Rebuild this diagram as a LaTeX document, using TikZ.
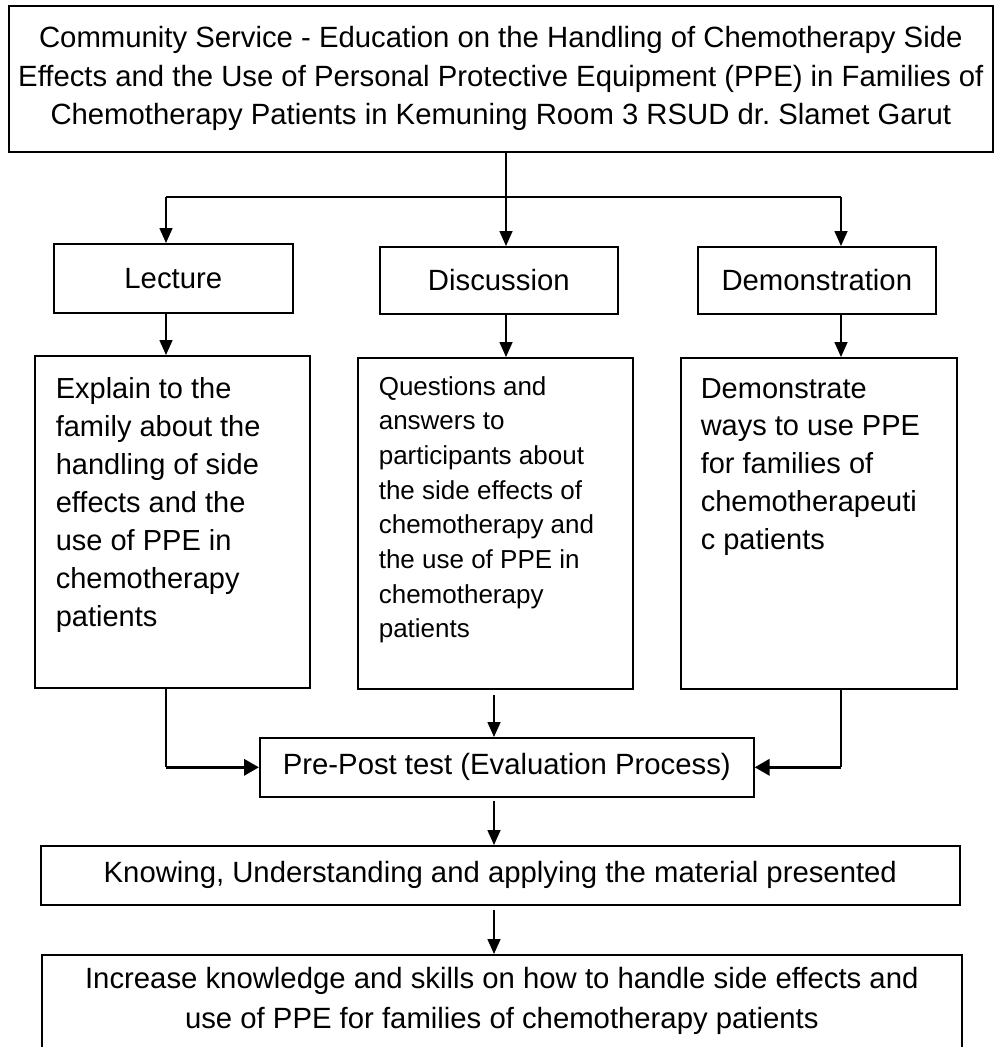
\documentclass[tikz,border=0pt]{standalone}
\usepackage{fontspec}
\setmainfont{Liberation Sans}
\frenchspacing
\usetikzlibrary{arrows.meta}

\newcommand{\toptext}[3]{\parbox[t][#1][t]{#2}{\raggedright\strut #3}}

\begin{document}
\begin{tikzpicture}[x=1pt, y=-1pt,
  box/.style={draw, line width=1.6pt, anchor=north west, align=center,
    font=\fontsize{29.3}{38.5}\selectfont},
  bigbox/.style={draw, line width=1.6pt, anchor=north west, inner xsep=21pt},
  arr/.style={line width=1.6pt, -{Triangle[length=15pt,width=13pt]}},
  thickarr/.style={line width=3.5pt, -{Triangle[length=15pt,width=16pt]}}]
  \clip (0,0) rectangle (994,1047);

  \node[box, minimum width=984pt, minimum height=146pt] (top) at (8,5)
    {Community Service - Education on the Handling of Chemotherapy Side\\
     Effects and the Use of Personal Protective Equipment (PPE) in Families of\\
     Chemotherapy Patients in Kemuning Room 3 RSUD dr. Slamet Garut};

  \node[box, minimum width=239pt, minimum height=69pt] (lecture) at (53,243) {Lecture};
  \node[box, minimum width=238pt, minimum height=67pt] (discussion) at (379,246) {Discussion};
  \node[box, minimum width=238pt, minimum height=67pt] (demo) at (697,246) {Demonstration};

  \node[bigbox, inner ysep=15.8pt, font=\fontsize{29}{38}\selectfont] (lecturebig) at (34,355)
    {\toptext{300.4pt}{233pt}{Explain to the\\ family about the\\ handling of side\\
      effects and the\\ use of PPE in\\ chemotherapy\\ patients}};
  \node[bigbox, inner ysep=13pt, font=\fontsize{26}{34.7}\selectfont] (discussionbig) at (357,357)
    {\toptext{305pt}{233pt}{Questions and\\ answers to\\ participants about\\
      the side effects of\\ chemotherapy and\\ the use of PPE in\\ chemotherapy\\ patients}};
  \node[bigbox, inner xsep=20pt, inner ysep=13.8pt, font=\fontsize{29}{37.8}\selectfont] (demobig) at (680,357)
    {\toptext{303.4pt}{236pt}{Demonstrate\\ ways to use PPE\\ for families of\\
      chemotherapeuti\\ c patients}};

  \node[box, minimum width=494pt, minimum height=59pt] (prepost) at (259,737)
    {Pre-Post test (Evaluation Process)};
  \node[box, minimum width=919pt, minimum height=59pt] (knowing) at (40,845)
    {Knowing, Understanding and applying the material presented};
  \node[bigbox, inner xsep=6pt, inner ysep=6pt, font=\fontsize{29.3}{40}\selectfont] (increase) at (41,954)
    {\parbox[t][140pt][t]{908pt}{\centering\strut Increase knowledge and skills on how to handle side effects and\\
      use of PPE for families of chemotherapy patients}};

  \coordinate (split) at (506,197);
  \coordinate (left) at (166,197);
  \coordinate (right) at (841,197);
  \coordinate (mid) at (494,0);

  \draw[arr] (top.south -| split) -- (split |- discussion.north);
  \draw[line width=1.6pt] (left) -- (right);
  \draw[arr] (left) -- (left |- lecture.north);
  \draw[arr] (right) -- (right |- demo.north);

  \draw[arr] (lecture.south -| left) -- (lecturebig.north -| left);
  \draw[arr] (discussion.south -| split) -- (discussionbig.north -| split);
  \draw[arr] (demo.south -| right) -- (demobig.north -| right);

  \draw[line width=1.6pt] (lecturebig.south -| left) -- (left |- prepost.west);
  \draw[thickarr] (left |- prepost.west) -- (prepost.west);
  \draw[line width=1.6pt] (demobig.south -| right) -- (right |- prepost.east);
  \draw[thickarr] (right |- prepost.east) -- (prepost.east);
  \draw[arr, shorten <=5pt] (discussionbig.south -| mid) -- (prepost.north -| mid);

  \draw[arr, shorten <=3pt] (prepost.south -| mid) -- (knowing.north -| mid);
  \draw[arr, shorten <=4pt] (knowing.south -| mid) -- (increase.north -| mid);
\end{tikzpicture}
\end{document}
